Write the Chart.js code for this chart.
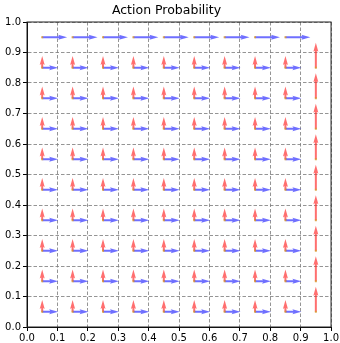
<!DOCTYPE html>
<html>
<head>
<meta charset="utf-8">
<script src="https://cdn.jsdelivr.net/npm/chart.js@4"></script>
<style>
  body { margin: 0; background: #fff; }
</style>
</head>
<body>
<canvas id="chart" width="340" height="343"></canvas>
<script>
const xCenters = [0.05, 0.15, 0.25, 0.35, 0.45, 0.55, 0.65, 0.75, 0.85, 0.95];
const yCenters = [0.95, 0.85, 0.75, 0.65, 0.55, 0.45, 0.35, 0.25, 0.15, 0.05];
const ticks = [0, 0.1, 0.2, 0.3, 0.4, 0.5, 0.6, 0.7, 0.8, 0.9, 1.0];

// probability of "up" per cell, rows from top to bottom
const upProb = [
  [0, 0, 0, 0, 0, 0, 0, 0, 0, 0],
  [0.47, 0.47, 0.47, 0.47, 0.47, 0.47, 0.47, 0.47, 0.47, 1.0],
  [0.47, 0.47, 0.47, 0.47, 0.47, 0.47, 0.47, 0.47, 0.47, 1.0],
  [0.47, 0.47, 0.47, 0.47, 0.47, 0.47, 0.47, 0.47, 0.47, 1.0],
  [0.47, 0.47, 0.47, 0.47, 0.47, 0.47, 0.47, 0.47, 0.47, 1.0],
  [0.47, 0.47, 0.47, 0.47, 0.47, 0.47, 0.47, 0.47, 0.47, 1.0],
  [0.47, 0.47, 0.47, 0.47, 0.47, 0.47, 0.47, 0.47, 0.47, 1.0],
  [0.47, 0.47, 0.47, 0.47, 0.47, 0.47, 0.47, 0.47, 0.47, 1.0],
  [0.47, 0.47, 0.47, 0.47, 0.47, 0.47, 0.47, 0.47, 0.47, 1.0],
  [0.47, 0.47, 0.47, 0.47, 0.47, 0.47, 0.47, 0.47, 0.47, 1.0]
];
// probability of "right" per cell
const rightProb = [
  [1.0, 1.0, 1.0, 1.0, 1.0, 1.0, 1.0, 1.0, 1.0, 0],
  [0.64, 0.64, 0.64, 0.64, 0.64, 0.64, 0.64, 0.64, 0.64, 0],
  [0.64, 0.64, 0.64, 0.64, 0.64, 0.64, 0.64, 0.64, 0.64, 0],
  [0.64, 0.64, 0.64, 0.64, 0.64, 0.64, 0.64, 0.64, 0.64, 0],
  [0.64, 0.64, 0.64, 0.64, 0.64, 0.64, 0.64, 0.64, 0.64, 0],
  [0.64, 0.64, 0.64, 0.64, 0.64, 0.64, 0.64, 0.64, 0.64, 0],
  [0.64, 0.64, 0.64, 0.64, 0.64, 0.64, 0.64, 0.64, 0.64, 0],
  [0.64, 0.64, 0.64, 0.64, 0.64, 0.64, 0.64, 0.64, 0.64, 0],
  [0.64, 0.64, 0.64, 0.64, 0.64, 0.64, 0.64, 0.64, 0.64, 0],
  [0.64, 0.64, 0.64, 0.64, 0.64, 0.64, 0.64, 0.64, 0.64, 0]
];
const arrowScale = 0.082;

const cells = [];
yCenters.forEach((y, r) => {
  xCenters.forEach((x, c) => {
    cells.push({ x: x, y: y, up: upProb[r][c], right: rightProb[r][c] });
  });
});

function drawArrow(ctx, x0, y0, x1, y1, color) {
  const dx = x1 - x0, dy = y1 - y0;
  const len = Math.hypot(dx, dy);
  if (len < 1) return;
  const ux = dx / len, uy = dy / len;
  const px = -uy, py = ux;
  const sw = 1.0, hw = 2.5;
  let hl = 9, ha = 8;
  if (len < hl + 2) { ha = ha * len / (hl + 2); hl = hl * len / (hl + 2); }
  const bx = x1 - ux * hl, by = y1 - uy * hl;
  const ax = x1 - ux * ha, ay = y1 - uy * ha;
  ctx.beginPath();
  ctx.moveTo(x0 + px * sw, y0 + py * sw);
  ctx.lineTo(ax + px * sw, ay + py * sw);
  ctx.lineTo(bx + px * hw, by + py * hw);
  ctx.lineTo(x1, y1);
  ctx.lineTo(bx - px * hw, by - py * hw);
  ctx.lineTo(ax - px * sw, ay - py * sw);
  ctx.lineTo(x0 - px * sw, y0 - py * sw);
  ctx.closePath();
  ctx.fillStyle = color;
  ctx.fill();
}

const quiverPlugin = {
  id: "quiver",
  afterDatasetsDraw(chart) {
    const ctx = chart.ctx;
    const xs = chart.scales.x, ys = chart.scales.y;
    const area = chart.chartArea;
    ctx.save();
    chart.data.datasets[0].data.forEach((d) => {
      const x0 = xs.getPixelForValue(d.x);
      const y0 = ys.getPixelForValue(d.y);
      if (d.up > 0) {
        drawArrow(ctx, x0, y0, x0, ys.getPixelForValue(d.y + d.up * arrowScale), "rgba(255, 50, 50, 0.7)");
      }
      if (d.right > 0) {
        drawArrow(ctx, x0, y0, xs.getPixelForValue(d.x + d.right * arrowScale), y0, "rgba(50, 50, 255, 0.7)");
      }
      if (d.up > 0 || d.right > 0) {
        ctx.fillStyle = "rgba(215, 150, 40, 0.8)";
        ctx.fillRect(x0 - 1, y0 - 1, 2, 2);
      }
    });
    ctx.strokeStyle = "#222";
    ctx.lineWidth = 1;
    ctx.strokeRect(area.left, area.top, area.right - area.left, area.bottom - area.top);
    ctx.restore();
  }
};

const tickFont = { family: "DejaVu Sans", size: 10 };

new Chart(document.getElementById("chart"), {
  type: "scatter",
  data: {
    datasets: [{
      data: cells,
      pointRadius: 0,
      showLine: false
    }]
  },
  options: {
    responsive: false,
    animation: false,
    layout: { padding: { right: 7, top: 0 } },
    plugins: {
      legend: { display: false },
      tooltip: { enabled: false },
      title: {
        display: true,
        text: "Action Probability",
        color: "#000",
        font: { family: "DejaVu Sans", size: 12.5, weight: "normal" },
        padding: { top: 3, bottom: 4 }
      }
    },
    scales: {
      x: {
        type: "linear",
        min: 0,
        max: 1,
        afterBuildTicks: (scale) => { scale.ticks = ticks.map(v => ({ value: v })); },
        afterFit: (scale) => { scale.height = 16; },
        ticks: {
          color: "#000",
          font: tickFont,
          padding: 1,
          maxRotation: 0,
          callback: (v) => v.toFixed(1)
        },
        grid: {
          color: "rgba(130, 130, 130, 0.85)",
          tickLength: 4,
          tickColor: "#000",
          tickBorderDash: []
        },
        border: { display: true, color: "#000", dash: [3.5, 2] }
      },
      y: {
        type: "linear",
        min: 0,
        max: 1,
        afterBuildTicks: (scale) => { scale.ticks = ticks.map(v => ({ value: v })); },
        afterFit: (scale) => { scale.width = 27; },
        ticks: {
          color: "#000",
          font: tickFont,
          padding: 2,
          callback: (v) => v.toFixed(1)
        },
        grid: {
          color: "rgba(130, 130, 130, 0.85)",
          tickLength: 4,
          tickColor: "#000",
          tickBorderDash: []
        },
        border: { display: true, color: "#000", dash: [3.5, 2] }
      }
    }
  },
  plugins: [quiverPlugin]
});
</script>
</body>
</html>
